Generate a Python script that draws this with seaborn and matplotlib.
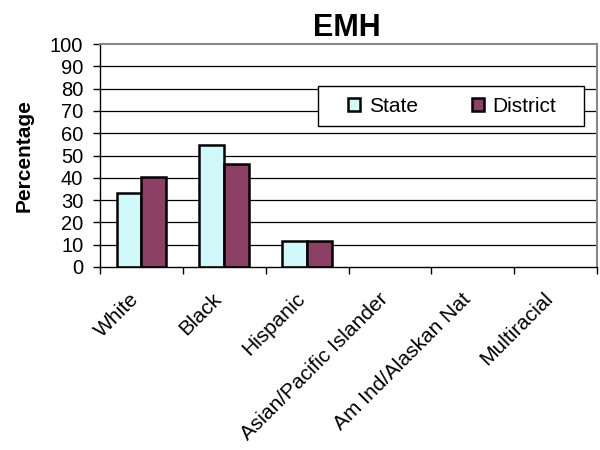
import numpy as np
import pandas as pd
import matplotlib as mpl
mpl.use('Agg')
import matplotlib.pyplot as plt
import matplotlib.transforms as mtransforms
from matplotlib.patches import Rectangle
import seaborn as sns

# ── Data ──────────────────────────────────────────────────────────────────
categories = ['White', 'Black', 'Hispanic', 'Asian/Pacific Islander',
              'Am Ind/Alaskan Nat', 'Multiracial']
state = [33.0, 54.7, 11.5, np.nan, np.nan, np.nan]
district = [40.5, 46.0, 11.7, np.nan, np.nan, np.nan]
series = ['State', 'District']
colors = ['#CCFFFF', '#993366']

df = pd.DataFrame({
    'Group': categories * 2,
    'Series': ['State'] * len(categories) + ['District'] * len(categories),
    'Percentage': state + district,
})

sns.set_theme(style='white')
plt.rcParams['font.family'] = ['Liberation Sans', 'DejaVu Sans']
plt.rcParams.update({'text.color': 'black', 'axes.labelcolor': 'black',
                     'xtick.color': 'black', 'ytick.color': 'black'})

fig = plt.figure(figsize=(6, 4.5), dpi=100)
ax = fig.add_axes([0.1667, 0.4067, 0.8283, 0.4953])

sns.barplot(data=df, x='Group', y='Percentage', hue='Series',
            order=categories, hue_order=series, palette=colors,
            width=0.6, edgecolor='black', linewidth=1.8, ax=ax)

ax.set_ylim(0, 100)
ax.set_xlim(-0.5, len(categories) - 0.5)
ax.set_yticks(range(0, 101, 10))
for y in range(10, 100, 10):
    ax.axhline(y, color='black', linewidth=0.9, zorder=0)

ax.tick_params(axis='y', which='major', length=5, width=1, direction='out',
               left=True, labelsize=14.5, pad=7)
ax.tick_params(axis='x', which='major', length=0, labelsize=15, pad=16)
ax.set_xticks(np.arange(-0.5, len(categories), 1.0), minor=True)
ax.tick_params(axis='x', which='minor', length=5, width=1, direction='out',
               bottom=True)
shift = mtransforms.ScaledTranslation(-12 / 100, 0, fig.dpi_scale_trans)
for lbl in ax.get_xticklabels():
    lbl.set_rotation(45)
    lbl.set_ha('right')
    lbl.set_rotation_mode('anchor')
    lbl.set_transform(lbl.get_transform() + shift)

for side in ['top', 'right']:
    ax.spines[side].set_color('#888888')
    ax.spines[side].set_linewidth(1.5)
for side in ['left', 'bottom']:
    ax.spines[side].set_color('black')
    ax.spines[side].set_linewidth(1)

ax.set_xlabel('')
ax.set_ylabel('Percentage', fontsize=15, fontweight='bold', labelpad=12)
ax.set_title('EMH', fontsize=22, fontweight='bold', pad=6)
ax.title.set_x((347 - 100) / 497)

# legend box drawn as its own white frame, entries centred inside it
box = Rectangle((0.4386, 0.6323), 0.5352, 0.1794, transform=ax.transAxes,
                facecolor='white', edgecolor='black', linewidth=1,
                zorder=4.5, clip_on=False)
ax.add_patch(box)
leg = ax.legend(loc='center', bbox_to_anchor=(0.7085, 0.722), ncol=2,
                fontsize=15, frameon=False, handlelength=0.58,
                handleheight=0.58, columnspacing=2.6, handletextpad=0.4,
                borderpad=0, borderaxespad=0)
leg.set_zorder(5)
for h in leg.legend_handles:
    h.set_linewidth(1.8)

fig.savefig('out.png', dpi=100)
